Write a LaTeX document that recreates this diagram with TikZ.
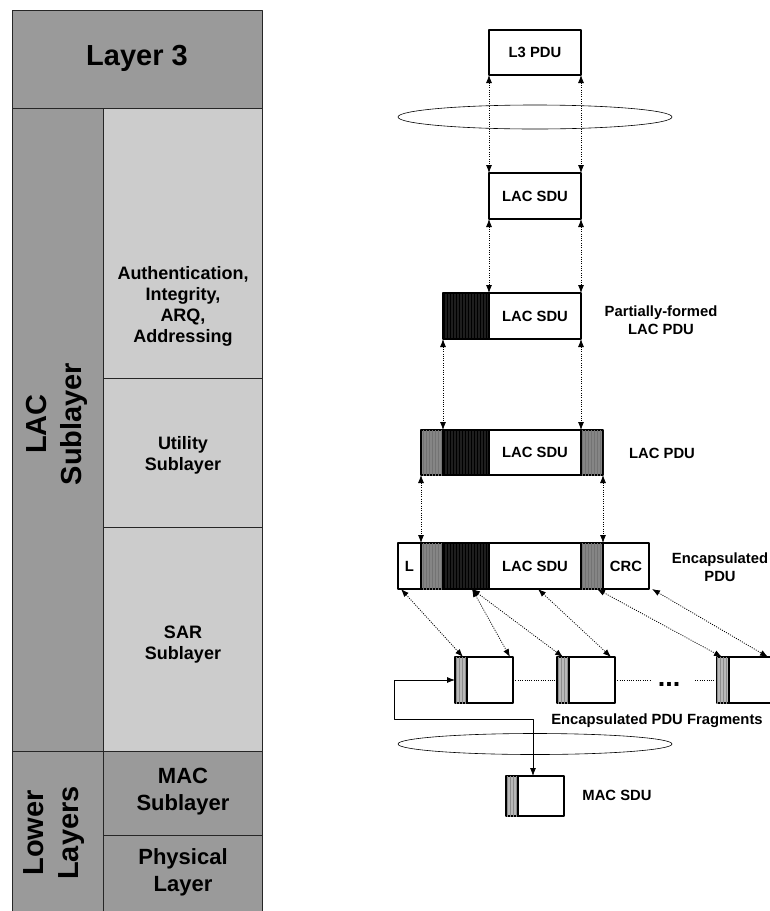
\documentclass[tikz,border=0pt]{standalone}
\usepackage{fontspec}
\setmainfont{Liberation Sans}
\usetikzlibrary{shapes.geometric,arrows.meta,patterns}

\definecolor{layergray}{HTML}{9A9A9A}
\definecolor{subgray}{HTML}{CCCCCC}
\definecolor{hdrdark}{HTML}{1E1E1E}
\definecolor{trlgray}{HTML}{858585}
\definecolor{stripegray}{HTML}{B8B8B8}

\begin{document}
\begin{tikzpicture}[x=1pt,y=-1pt,line join=round,>={Latex[length=8pt,width=6pt]},
    every node/.style={font=\fontsize{14.8}{17.5}\selectfont\bfseries,align=center},
    big/.style={font=\fontsize{29}{35}\selectfont\bfseries},
    mid/.style={font=\fontsize{22}{27}\selectfont\bfseries},
    small/.style={font=\fontsize{18}{21}\selectfont\bfseries},
    layerbox/.style={draw=black!85,line width=0.7pt},
    seg/.style={draw,line width=1.9pt,anchor=north west,minimum height=46pt,inner sep=0pt,outer sep=0pt},
    hdr/.style={seg,fill=hdrdark,postaction={pattern=vertical lines,pattern color=black}},
    trl/.style={seg,fill=trlgray,postaction={pattern=vertical lines,pattern color=black!55}},
    strp/.style={seg,fill=stripegray,minimum width=12pt,postaction={pattern=vertical lines,pattern color=black!45}},
    link/.style={<->,dash pattern=on 1pt off 1.3pt,line width=0.8pt},
    ring/.style={draw,ellipse,line width=0.6pt,minimum width=274pt,inner sep=0pt}]
	\useasboundingbox (0,0) rectangle (770,911);
	% layer stack
	\filldraw[layerbox,fill=layergray] (12,10) rectangle (262,108);
	\filldraw[layerbox,fill=layergray] (12,108) rectangle (103,751);
	\filldraw[layerbox,fill=subgray] (103,108) rectangle (262,378);
	\filldraw[layerbox,fill=subgray] (103,378) rectangle (262,527);
	\filldraw[layerbox,fill=subgray] (103,527) rectangle (262,751);
	\filldraw[layerbox,fill=layergray] (12,751) rectangle (103,915);
	\filldraw[layerbox,fill=layergray] (103,751) rectangle (262,835);
	\filldraw[layerbox,fill=layergray] (103,835) rectangle (262,915);
	\node[big] (l3name) at (137,58) {Layer 3};
	\node[big,rotate=90] (lacname) at (57,424) {LAC\\Sublayer};
	\node[small] (auth) at (183,306) {Authentication,\\Integrity,\\ARQ,\\Addressing};
	\node[small] (util) at (183,455) {Utility\\Sublayer};
	\node[small] (sar) at (183,645) {SAR\\Sublayer};
	\node[mid] (macname) at (183,792) {MAC\\Sublayer};
	\node[mid] (phyname) at (183,872) {Physical\\Layer};
	\node[big,rotate=90] (lowname) at (54,833) {Lower\\Layers};
	% PDU rows
	\node[ring,minimum height=24pt] (ring1) at (535,117) {};
	\node[seg,minimum width=92pt,minimum height=45pt] (l3pdu) at (489,30) {L3 PDU};
	\node[seg,minimum width=92pt] (sdu1) at (489,173) {LAC SDU};
	\node[hdr,minimum width=46pt] (phdr) at (443,293) {};
	\node[seg,minimum width=92pt] (psdu) at (489,293) {LAC SDU};
	\node (plabel) at (661,320) {Partially-formed\\LAC PDU};
	\node[trl,minimum width=22pt,minimum height=45pt] (qtrl1) at (421,430) {};
	\node[hdr,minimum width=46pt,minimum height=45pt] (qhdr) at (443,430) {};
	\node[seg,minimum width=92pt,minimum height=45pt] (qsdu) at (489,430) {LAC SDU};
	\node[trl,minimum width=22pt,minimum height=45pt] (qtrl2) at (581,430) {};
	\node (qlabel) at (662,453) {LAC PDU};
	\node[seg,minimum width=23pt] (elen) at (398,543) {L};
	\node[trl,minimum width=22pt] (etrl1) at (421,543) {};
	\node[hdr,minimum width=46pt] (ehdr) at (443,543) {};
	\node[seg,minimum width=92pt] (esdu) at (489,543) {LAC SDU};
	\node[trl,minimum width=22pt] (etrl2) at (581,543) {};
	\node[seg,minimum width=46pt] (ecrc) at (603,543) {CRC};
	\node (elabel) at (720,567) {Encapsulated\\PDU};
	% fragments
	\node[strp] (f1s) at (455,657) {};
	\node[seg,minimum width=46pt] (f1b) at (467,657) {};
	\node[strp] (f2s) at (557,657) {};
	\node[seg,minimum width=46pt] (f2b) at (569,657) {};
	\node[strp] (f3s) at (717,657) {};
	\node[seg,minimum width=47pt] (f3b) at (729,657) {};
	\node (flabel) at (657,721) {Encapsulated PDU Fragments};
	\node[ring,minimum height=21pt] (ring2) at (535,744) {};
	\node[strp,minimum height=40pt] (ms) at (506,776) {};
	\node[seg,minimum width=46pt,minimum height=40pt] (mb) at (518,776) {};
	\node (mlabel) at (617,795) {MAC SDU};
	% vertical links
	\draw[link] (l3pdu.south west) -- (sdu1.north west);
	\draw[link] (l3pdu.south east) -- (sdu1.north east);
	\draw[link] (sdu1.south west) -- (psdu.north west);
	\draw[link] (sdu1.south east) -- (psdu.north east);
	\draw[link] (phdr.south west) -- (qhdr.north west);
	\draw[link] (psdu.south east) -- (qsdu.north east);
	\draw[link] (qtrl1.south west) -- (etrl1.north west);
	\draw[link] (qtrl2.south east) -- (etrl2.north east);
	% fragmentation links
	\draw[link] ([xshift=3pt]elen.south west) -- ([xshift=-4pt]f1s.north east);
	\draw[link] ([xshift=29pt]ehdr.south west) -- ([xshift=-3pt]f1b.north east);
	\draw[link] ([xshift=29pt]ehdr.south west) -- ([xshift=-6pt]f2s.north east);
	\draw[link] ([xshift=49pt]esdu.south west) -- ([xshift=-4pt]f2b.north east);
	\draw[link] ([xshift=16pt]etrl2.south west) -- ([xshift=-7pt]f3s.north east);
	\draw[link] ([xshift=3pt]ecrc.south east) -- ([xshift=-8pt]f3b.north east);
	% fragment chain
	\coordinate (gapa) at (650,680);
	\coordinate (gapb) at (695,680);
	\draw[dash pattern=on 1pt off 1.3pt,line width=0.8pt] (f1b.east) -- (f2s.west);
	\draw[dash pattern=on 1pt off 1.3pt,line width=0.8pt] (f2b.east) -- (gapa);
	\draw[dash pattern=on 1pt off 1.3pt,line width=0.8pt] (gapb) -- (f3s.west);
	\node[font=\fontsize{27}{27}\selectfont\bfseries,anchor=base] (more) at (669,686) {...};
	% selected fragment to MAC SDU
	\coordinate (bend) at (394,719);
	\draw[<->,line width=0.8pt] (f1s.west) -| (bend) -| ([xshift=27pt]ms.north west);
\end{tikzpicture}
\end{document}
